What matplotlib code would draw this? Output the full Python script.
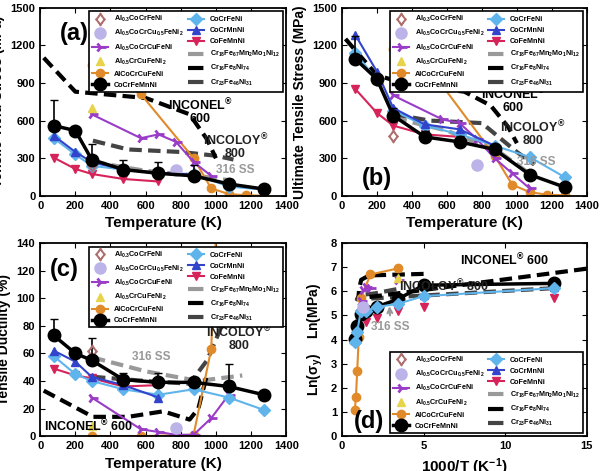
import numpy as np
import matplotlib
matplotlib.use("Agg")
import matplotlib.pyplot as plt
from matplotlib.lines import Line2D

plt.rcParams.update({
    "font.family": "Liberation Sans",
    "font.weight": "bold",
    "axes.labelweight": "bold",
    "mathtext.fontset": "custom",
    "mathtext.rm": "Liberation Sans:bold",
    "mathtext.bf": "Liberation Sans:bold",
    "mathtext.default": "bf",
    "axes.linewidth": 1.3,
})

# ---- temperatures (K) ----
T_cantor = [77, 200, 293, 473, 673, 873, 1073, 1273]
T_cocrfeni = [77, 200, 293, 473, 673, 873, 1073, 1273]
T_cocrmnni = [77, 200, 293, 473, 673, 873]
T_cofemnni = [77, 200, 293, 473, 673]
T_al05cu = [293, 573, 673, 773, 873, 973]
T_al05cu_b = [293, 573, 673, 773, 873, 973, 1073]
T_al1 = [293, 573, 873, 973, 1073, 1173, 1273]

# ---- yield stress (MPa) ----
ys_cantor = [560, 520, 290, 210, 180, 160, 95, 55]
ys_cantor_err = [200, 0, 120, 80, 90, 90, 0, 0]
ys_cocrfeni = [460, 330, 240, 210, 180, 175, 75, 50]
ys_cocrmnni = [480, 350, 270, 210, 185, 170]
ys_cofemnni = [305, 215, 175, 135, 115]
ys_al05cu = [650, 460, 490, 430, 270, 160]
ys_al1 = [1040, 810, 300, 60, 15, 5, 2]
ys_al05cr = 700
ys_al03 = 250
ys_al05cu05 = 210
ys_inconel_T = [20, 200, 600, 850, 950, 1000]
ys_inconel = [1100, 830, 780, 650, 450, 300]
ys_incoloy_T = [300, 500, 800, 1000, 1100]
ys_incoloy = [440, 370, 350, 320, 290]
ys_316_T = [300, 600, 900, 1100]
ys_316 = [270, 200, 160, 120]

# ---- ultimate tensile stress (MPa) ----
uts_cantor = [1090, 930, 640, 470, 430, 370, 170, 70]
uts_cantor_err = [180, 0, 60, 50, 50, 0, 0, 0]
uts_cocrfeni = [1140, 920, 680, 560, 490, 400, 310, 150]
uts_cocrmnni = [1280, 990, 700, 570, 530, 400]
uts_cofemnni = [850, 660, 560, 490, 470]
uts_al05cu = [800, 610, 580, 450, 300, 180, 60]
uts_al1 = [1170, 880, 320, 90, 30, 10, 5]
uts_al05cr = 1090
uts_al03 = 480
uts_al05cu05 = 250
uts_inconel_T = [20, 200, 400, 700, 850, 950, 1000]
uts_inconel = [1250, 960, 880, 830, 720, 550, 420]
uts_incoloy_T = [300, 500, 800, 1000, 1100]
uts_incoloy = [650, 600, 580, 350, 250]
uts_316_T = [300, 600, 900, 1100]
uts_316 = [620, 520, 350, 150]

# ---- ductility (%) ----
el_cantor = [73, 60, 55, 41, 39, 39, 36, 30]
el_cantor_err = [12, 0, 16, 5, 7, 0, 16, 0]
el_cocrfeni = [58, 45, 40, 34, 30, 34, 28, 19]
el_cocrmnni = [62, 54, 43, 37, 28]
el_cofemnni = [49, 44, 42, 36, 37]
el_al05cu = [28, 5, 3, 1, 1, 13, 30]
el_al05cu_T = [293, 573, 673, 773, 873, 973, 1073]
el_al1_T = [293, 573, 873, 973, 1000]
el_al1 = [0, 0, 1, 63, 145]
el_al05cr = 7
el_al03 = 62
el_al05cu05 = 6
el_inconel_T = [20, 300, 500, 700, 850, 900, 950]
el_inconel = [33, 14, 14, 18, 12, 20, 45]
el_incoloy_T = [300, 600, 850, 950, 1050]
el_incoloy = [43, 40, 38, 55, 85]
el_316_T = [300, 600, 900, 1150]
el_316 = [57, 47, 40, 44]

C_CANTOR = "black"
C_FENI = "#5fb4ec"
C_MN = "#3344cc"
C_FEMN = "#d6245a"
C_ALCU = "#9a3cc8"
C_AL1 = "#e08a2a"
C_ALCR = "#e8d44a"
C_AL03 = "#b07070"
C_AL05 = "#bcb4e8"


def legend_handles():
    return [
        Line2D([], [], color=C_AL03, marker=r"$\diamondsuit$", ls="", ms=9, label=r"Al$_{0.3}$CoCrFeNi"),
        Line2D([], [], color=C_AL05, marker="o", ls="", ms=8, label=r"Al$_{0.5}$CoCrCu$_{0.5}$FeNi$_2$"),
        Line2D([], [], color=C_ALCU, marker="4", lw=1.5, ms=8, mew=2, label=r"Al$_{0.5}$CoCrCuFeNi"),
        Line2D([], [], color=C_ALCR, marker="^", ls="", ms=6, label=r"Al$_{0.5}$CrCuFeNi$_2$"),
        Line2D([], [], color=C_AL1, marker="o", lw=1.5, ms=6, label="AlCoCrCuFeNi"),
        Line2D([], [], color=C_CANTOR, marker="o", lw=2.5, ms=9, label="CoCrFeMnNi"),
        Line2D([], [], color=C_FENI, marker="D", lw=1.5, ms=6, label="CoCrFeNi"),
        Line2D([], [], color=C_MN, marker="^", lw=1.5, ms=6, label="CoCrMnNi"),
        Line2D([], [], color=C_FEMN, marker="v", lw=1.5, ms=6, label="CoFeMnNi"),
        Line2D([], [], color="#999999", ls="--", lw=3, label=r"Cr$_{18}$Fe$_{67}$Mn$_2$Mo$_1$Ni$_{12}$"),
        Line2D([], [], color="black", ls="--", lw=3, label=r"Cr$_{16}$Fe$_8$Ni$_{74}$"),
        Line2D([], [], color="#444444", ls="--", lw=3, label=r"Cr$_{23}$Fe$_{46}$Ni$_{31}$"),
    ]


def draw_panel(ax, d, ylim, yticks, ylabel):
    (cantor, err, feni, mn, femn, alcu, alcu_T, al1, al1_T, alcr, al03, al05,
     inc_T, inc, incol_T, incol, ss_T, ss) = d
    ax.plot(ss_T, ss, "--", color="#999999", lw=3, dashes=(3, 1.5))
    ax.plot(incol_T, incol, "--", color="#444444", lw=3, dashes=(3, 1.5))
    ax.plot(inc_T, inc, "--", color="black", lw=3, dashes=(3, 1.5))
    ax.plot(al1_T, al1, "-o", color=C_AL1, lw=1.5, ms=6)
    ax.plot(alcu_T, alcu, "-", marker="4", color=C_ALCU, lw=1.5, ms=8, mew=2)
    ax.plot(T_cofemnni[:len(femn)], femn, "-v", color=C_FEMN, lw=1.5, ms=6)
    ax.plot(T_cocrfeni[:len(feni)], feni, "-D", color=C_FENI, lw=1.5, ms=6, mec=C_FENI)
    ax.plot(T_cocrmnni[:len(mn)], mn, "-^", color=C_MN, lw=1.5, ms=6)
    ax.errorbar(T_cantor, cantor, yerr=[np.zeros(len(err)), err], fmt="-o",
                color=C_CANTOR, lw=2.5, ms=9, capsize=3, elinewidth=1.2)
    ax.plot([293], [alcr], "^", color=C_ALCR, ms=6)
    ax.plot([293], [al03], marker=r"$\diamondsuit$", color=C_AL03, ms=9, ls="")
    ax.plot([773], [al05], "o", color=C_AL05, ms=8)
    ax.set_xlim(0, 1400)
    ax.set_xticks(range(0, 1401, 200))
    ax.set_ylim(*ylim)
    ax.set_yticks(yticks)
    ax.set_xlabel("Temperature (K)", fontsize=11)
    ax.set_ylabel(ylabel, fontsize=10)
    ax.tick_params(labelsize=8, direction="in", top=True, right=True)
    leg = ax.legend(handles=legend_handles(), ncol=2, loc="upper right", fontsize=5.2,
                    frameon=True, framealpha=1, edgecolor="black", handlelength=2.2,
                    columnspacing=0.6, labelspacing=0.55, borderpad=0.4, fancybox=False)
    leg.get_frame().set_linewidth(1.2)


fig = plt.figure(figsize=(6.0, 4.71), dpi=100)
ax_a = fig.add_axes([0.067, 0.584, 0.41, 0.40])
ax_b = fig.add_axes([0.570, 0.584, 0.408, 0.40])
ax_c = fig.add_axes([0.067, 0.074, 0.41, 0.41])
ax_d = fig.add_axes([0.570, 0.074, 0.408, 0.41])

draw_panel(ax_a, (ys_cantor, ys_cantor_err, ys_cocrfeni, ys_cocrmnni, ys_cofemnni, ys_al05cu,
                  T_al05cu, ys_al1, T_al1, ys_al05cr, ys_al03, ys_al05cu05,
                  ys_inconel_T, ys_inconel, ys_incoloy_T, ys_incoloy, ys_316_T, ys_316),
           (0, 1500), range(0, 1501, 300), "Tensile Yield Stress (MPa)")
ax_a.text(0.08, 0.83, "(a)", transform=ax_a.transAxes, fontsize=17)
ax_a.text(910, 590, "INCONEL$^{®}$\n600", fontsize=9, ha="center", linespacing=1.0)
ax_a.text(1110, 310, "INCOLOY$^{®}$\n800", fontsize=9, ha="center", linespacing=1.0, color="#222222")
ax_a.text(1000, 180, "316 SS", fontsize=8.5, color="#999999")

draw_panel(ax_b, (uts_cantor, uts_cantor_err, uts_cocrfeni, uts_cocrmnni, uts_cofemnni, uts_al05cu,
                  T_al05cu_b, uts_al1, T_al1, uts_al05cr, uts_al03, uts_al05cu05,
                  uts_inconel_T, uts_inconel, uts_incoloy_T, uts_incoloy, uts_316_T, uts_316),
           (0, 1500), range(0, 1501, 300), "Ultimate Tensile Stress (MPa)")
ax_b.text(0.08, 0.06, "(b)", transform=ax_b.transAxes, fontsize=17)
ax_b.text(980, 680, "INCONEL$^{®}$\n600", fontsize=9, ha="center", linespacing=1.0)
ax_b.text(1090, 410, "INCOLOY$^{®}$\n800", fontsize=9, ha="center", linespacing=1.0, color="#222222")
ax_b.text(1000, 250, "316 SS", fontsize=8.5, color="#999999")

draw_panel(ax_c, (el_cantor, el_cantor_err, el_cocrfeni, el_cocrmnni, el_cofemnni, el_al05cu,
                  el_al05cu_T, el_al1, el_al1_T, el_al05cr, el_al03, el_al05cu05,
                  el_inconel_T, el_inconel, el_incoloy_T, el_incoloy, el_316_T, el_316),
           (0, 140), range(0, 141, 20), "Tensile Ductility (%)")
ax_c.text(0.04, 0.83, "(c)", transform=ax_c.transAxes, fontsize=17)
ax_c.text(20, 4, "INCONEL$^{®}$ 600", fontsize=9)
ax_c.text(1130, 63, "INCOLOY$^{®}$\n800", fontsize=9, ha="center", linespacing=1.0, color="#222222")
ax_c.text(520, 55, "316 SS", fontsize=8.5, color="#999999")

# ---- panel (d): ln(yield) vs 1000/T, from panel (a) values ----
def inv(T):
    return 1000.0 / np.asarray(T, dtype=float)

ax = ax_d
ax.plot(inv(ys_316_T), np.log(ys_316), "--", color="#999999", lw=3, dashes=(3, 1.5))
ax.plot(inv(ys_incoloy_T + [77]), np.log(ys_incoloy + [460]), "--", color="#444444", lw=3, dashes=(3, 1.5))
ax.plot(list(inv(ys_inconel_T[1:])) + [15], list(np.log(ys_inconel[1:])) + [np.log(1030)],
        "--", color="black", lw=3, dashes=(3, 1.5))
ax.plot(inv(T_al1), np.log(ys_al1[:-1] + [3]), "-o", color=C_AL1, lw=1.5, ms=6)
ax.plot(inv(T_al05cu), np.log(ys_al05cu), "4", color=C_ALCU, ms=8, mew=2, ls="")
ax.plot(inv(T_cofemnni), np.log(ys_cofemnni), "v", color=C_FEMN, ms=6, ls="")
ax.plot(inv(T_cocrmnni), np.log(ys_cocrmnni), "^", color=C_MN, ms=6, ls="")
ax.plot(inv(T_cantor), np.log(ys_cantor), "-o", color=C_CANTOR, lw=2.5, ms=9)
ax.plot(inv(T_cocrfeni), np.log(ys_cocrfeni), "-D", color=C_FENI, lw=1.5, ms=6)
ax.plot(inv([293]), np.log([ys_al05cr]), "^", color=C_ALCR, ms=6)
ax.plot(inv([773]), np.log([ys_al05cu05]), "o", color=C_AL05, ms=8)
ax.set_xlim(0, 15)
ax.set_xticks([0, 5, 10, 15])
ax.set_ylim(0, 8)
ax.set_yticks(range(0, 9))
ax.set_xlabel("1000/T (K$^{-1}$)", fontsize=11)
ax.set_ylabel(r"Ln($\sigma_y$)    Ln(MPa)", fontsize=10)
ax.tick_params(labelsize=8, direction="in", top=True, right=True)
ax.text(0.05, 0.04, "(d)", transform=ax.transAxes, fontsize=17)
ax.text(7.2, 7.1, "INCONEL$^{®}$ 600", fontsize=9)
ax.text(3.5, 6.0, "INCOLOY$^{®}$ 800", fontsize=9, color="#222222")
ax.annotate("316 SS", xy=(2.9, 5.5), xytext=(1.8, 4.4), fontsize=8.5, color="#999999",
            arrowprops=dict(arrowstyle="->", color="#999999", lw=1.5))
leg = ax.legend(handles=legend_handles(), ncol=2, loc="lower right", fontsize=5.2,
                frameon=True, framealpha=1, edgecolor="black", handlelength=2.2,
                columnspacing=0.6, labelspacing=0.55, borderpad=0.4, fancybox=False)
leg.get_frame().set_linewidth(1.2)

fig.savefig("out.png", dpi=100)
